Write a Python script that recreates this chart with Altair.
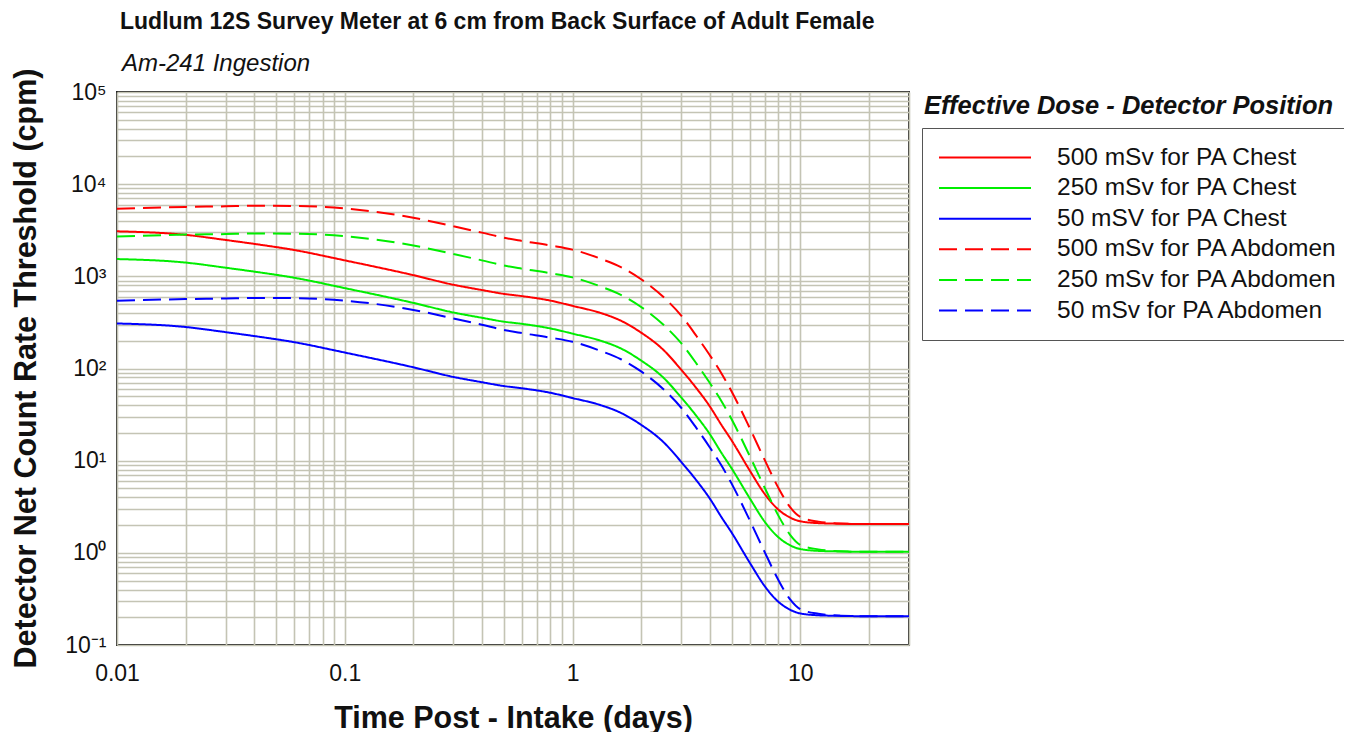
import altair as alt
import pandas as pd

# ---------------- data ----------------
time_days = [0.01, 0.02, 0.03, 0.04, 0.06, 0.1, 0.2, 0.3, 0.4, 0.5, 0.6, 0.8, 1, 1.33, 1.63,
             2, 2.5, 3, 3.5, 4, 4.5, 5, 6, 7, 8, 9, 10, 12, 15, 20, 30]

red_chest = [3080, 2820, 2480, 2250, 1930, 1490, 1030, 810, 710, 645, 610, 545, 478, 400, 330,
             245, 160, 97, 61, 39, 24.5, 16.5, 7.8, 4.3, 2.95, 2.42, 2.2, 2.1, 2.07, 2.05, 2.05]
green_chest = [1540, 1410, 1240, 1125, 965, 745, 515, 405, 355, 322, 305, 272, 239, 200, 165,
               122, 80, 48.5, 30.5, 19.5, 12.2, 8.2, 3.9, 2.15, 1.48, 1.21, 1.1, 1.05, 1.035, 1.025, 1.025]
blue_chest = [308, 282, 248, 225, 193, 149, 103, 81, 71, 64.5, 61, 54.5, 47.8, 40, 33,
              24.5, 16, 9.7, 6.1, 3.9, 2.45, 1.65, 0.78, 0.43, 0.295, 0.242, 0.22, 0.21, 0.207, 0.205, 0.205]
red_abdomen = [5420, 5670, 5750, 5830, 5800, 5450, 4320, 3490, 2980, 2620, 2420, 2160, 1950, 1550, 1260,
               930, 600, 375, 225, 140, 89, 56, 22.5, 10, 5.1, 3.15, 2.45, 2.18, 2.08, 2.05, 2.05]
green_abdomen = [2710, 2835, 2875, 2915, 2900, 2725, 2160, 1745, 1490, 1310, 1210, 1080, 975, 775, 630,
                 465, 300, 188, 113, 70, 44.5, 28, 11.2, 5.0, 2.55, 1.58, 1.22, 1.09, 1.04, 1.025, 1.025]
blue_abdomen = [542, 567, 575, 583, 580, 545, 432, 349, 298, 262, 242, 216, 195, 155, 126,
                93, 60, 37.5, 22.5, 14, 8.9, 5.6, 2.25, 1.0, 0.51, 0.315, 0.245, 0.218, 0.208, 0.205, 0.205]

series_names = [
    "500 mSv for PA Chest",
    "250 mSv for PA Chest",
    "50 mSV for PA Chest",
    "500 mSv for PA Abdomen",
    "250 mSv for PA Abdomen",
    "50 mSv for PA Abdomen",
]
series_values = [red_chest, green_chest, blue_chest, red_abdomen, green_abdomen, blue_abdomen]
series_colors = ["#ff0000", "#00ee00", "#0000ff", "#ff0000", "#00ee00", "#0000ff"]
series_dashes = [[1, 0], [1, 0], [1, 0], [18, 8], [18, 8], [18, 8]]

x_tick_values = [0.01, 0.02, 0.03, 0.04, 0.05, 0.06, 0.07, 0.08, 0.09,
                 0.1, 0.2, 0.3, 0.4, 0.5, 0.6, 0.7, 0.8, 0.9,
                 1, 2, 3, 4, 5, 6, 7, 8, 9, 10, 20, 30]
y_tick_values = [round(m * 10.0 ** k, 6) for k in range(-1, 5) for m in range(1, 10)] + [100000]

title_text = "Ludlum 12S Survey Meter at 6 cm from Back Surface of Adult Female"
subtitle_text = "Am-241 Ingestion"
legend_title = "Effective Dose - Detector Position"
x_title = "Time Post - Intake (days)"
y_title = "Detector Net Count Rate Threshold (cpm)"

rows = []
for name, vals in zip(series_names, series_values):
    for t, v in zip(time_days, vals):
        rows.append({"time": t, "value": v, "series": name})
df = pd.DataFrame(rows)

FONT = "Liberation Sans, Arial, Helvetica, sans-serif"

x_label_expr = ("datum.value == 0.01 || datum.value == 0.1 || datum.value == 1 || "
                "datum.value == 10 ? datum.label : ''")
y_label_expr = ("datum.value == 100000 ? '10\u2075' : datum.value == 10000 ? '10\u2074' : "
                "datum.value == 1000 ? '10\u00b3' : datum.value == 100 ? '10\u00b2' : "
                "datum.value == 10 ? '10\u00b9' : datum.value == 1 ? '10\u2070' : "
                "datum.value == 0.1 ? '10\u207b\u00b9' : ''")

legend = alt.Legend(
    orient="none", legendX=805, legendY=36, title=None,
    symbolType="stroke", symbolSize=8464, symbolStrokeWidth=2, clipHeight=27,
    labelFont=FONT, labelFontSize=24.5, labelColor="#111111", labelOffset=25, labelLimit=600,
    rowPadding=3.6, padding=16, strokeColor="#555555", fillColor="#ffffff",
)

lines = alt.Chart(df).mark_line(strokeWidth=2, interpolate="monotone", clip=True).encode(
    x=alt.X("time:Q",
            scale=alt.Scale(type="log", domain=[0.01, 30], nice=False),
            axis=alt.Axis(values=x_tick_values, labelExpr=x_label_expr, format="~g",
                          title=x_title, titleX=396, titleY=82, titleAlign="center",
                          titleBaseline="alphabetic", labelPadding=17, labelFlush=False,
                          labelOverlap=False, labelBound=False)),
    y=alt.Y("value:Q",
            scale=alt.Scale(type="log", domain=[0.1, 100000], nice=False),
            axis=alt.Axis(values=y_tick_values, labelExpr=y_label_expr,
                          title=y_title, titleX=-82, titleY=276, titleAlign="center",
                          titleBaseline="alphabetic", titleAngle=-90, labelPadding=11,
                          labelOverlap=False, labelFlush=False, labelBound=False)),
    color=alt.Color("series:N", scale=alt.Scale(domain=series_names, range=series_colors), legend=legend),
    strokeDash=alt.StrokeDash("series:N", scale=alt.Scale(domain=series_names, range=series_dashes),
                              legend=legend),
)

legend_head = alt.Chart(pd.DataFrame({"label": [legend_title]})).mark_text(
    align="left", baseline="alphabetic", font=FONT, fontSize=25.5,
    fontStyle="italic", fontWeight="bold", color="#111111"
).encode(text="label:N", x=alt.value(807), y=alt.value(22))

main_title = alt.Chart(pd.DataFrame({"label": [title_text]})).mark_text(
    align="left", baseline="alphabetic", font=FONT, fontSize=23,
    fontWeight="bold", color="#111111"
).encode(text="label:N", x=alt.value(3), y=alt.value(-63))

sub_title = alt.Chart(pd.DataFrame({"label": [subtitle_text]})).mark_text(
    align="left", baseline="alphabetic", font=FONT, fontSize=24,
    fontStyle="italic", color="#111111"
).encode(text="label:N", x=alt.value(5), y=alt.value(-21))

chart = alt.layer(lines, legend_head, main_title, sub_title).properties(
    width=792,
    height=553,
    padding={"left": 109, "top": 84, "right": 435, "bottom": 87},
    autosize=alt.AutoSizeParams(type="none"),
).configure_view(
    stroke="#222222", strokeWidth=2
).configure_axis(
    grid=True, gridColor="#c4c4b4", gridWidth=1.6, gridOpacity=1,
    ticks=False, tickSize=0, domain=False,
    labelFont=FONT, labelFontSize=23, labelColor="#111111",
    titleFont=FONT, titleFontSize=30.5, titleFontWeight="bold", titleColor="#111111",
)

chart.save("out.html", embed_options={"renderer": "svg", "actions": False})
